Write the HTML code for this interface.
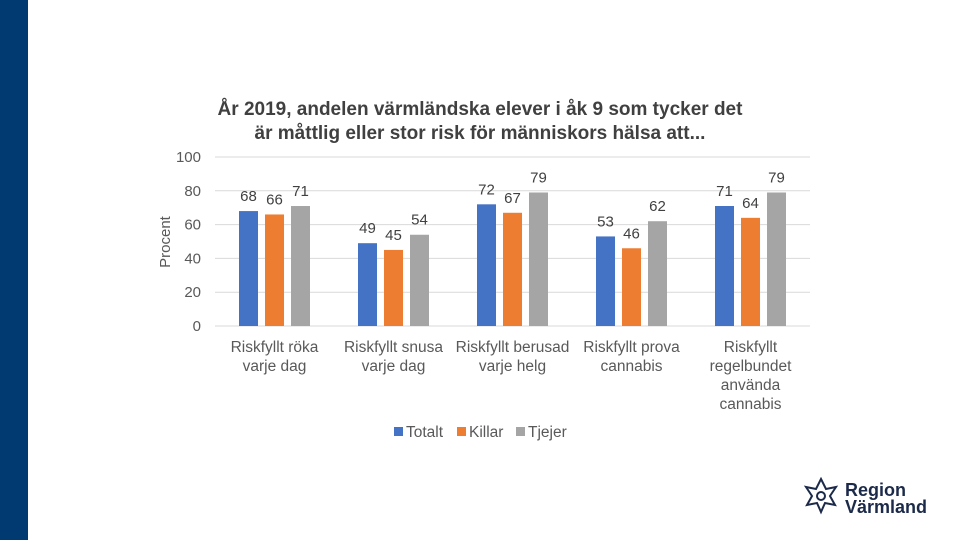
<!DOCTYPE html>
<html><head><meta charset="utf-8">
<style>
body{margin:0;width:960px;height:540px;overflow:hidden;background:#fff;font-family:"Liberation Sans",sans-serif;}
#side{position:absolute;left:0;top:0;width:28px;height:540px;background:#003a70;}
</style></head>
<body>
<div id="side"></div>
<svg id="chart" width="960" height="540" style="position:absolute;left:0;top:0">
<text x="480" y="115" text-anchor="middle" font-size="19" font-weight="bold" fill="#404040">År 2019, andelen värmländska elever i åk 9 som tycker det</text>
<text x="480" y="139" text-anchor="middle" font-size="19" font-weight="bold" fill="#404040">är måttlig eller stor risk för människors hälsa att...</text>
<text transform="translate(170,242) rotate(-90)" text-anchor="middle" font-size="15" fill="#595959">Procent</text>
<g id="grid"></g><g id="bars"></g><g id="cats"></g>
<g>
<rect x="394" y="427" width="9" height="9" fill="#4472c4"/>
<text x="406" y="437" font-size="15.5" fill="#595959">Totalt</text>
<rect x="457" y="427" width="9" height="9" fill="#ed7d31"/>
<text x="469" y="437" font-size="15.5" fill="#595959">Killar</text>
<rect x="516" y="427" width="9" height="9" fill="#a5a5a5"/>
<text x="528" y="437" font-size="15.5" fill="#595959">Tjejer</text>
</g>
<g>
<g transform="translate(821,495)" fill="none" stroke="#1c2a4a" stroke-width="2">
<path d="M0,-16 L5,-6 L15,-8 L9,1 L14,10 L4,8 L0,17 L-4,8 L-14,10 L-9,1 L-15,-8 L-5,-6 Z"/>
<circle cx="0" cy="1" r="4"/>
</g>
<text x="845" y="496" font-size="18" font-weight="bold" fill="#1c2a4a">Region</text>
<text x="845" y="513" font-size="18" font-weight="bold" fill="#1c2a4a">Värmland</text>
</g>
</svg>
<script>
const categories=[["Riskfyllt röka","varje dag"],["Riskfyllt snusa","varje dag"],["Riskfyllt berusad","varje helg"],["Riskfyllt prova","cannabis"],["Riskfyllt","regelbundet","använda","cannabis"]];
const totalt=[68,49,72,53,71];
const killar=[66,45,67,46,64];
const tjejer=[71,54,79,62,79];
const yTicks=[0,20,40,60,80,100];
const seriesNames=["totalt","killar","tjejer"];
const colors=["#4472c4","#ed7d31","#a5a5a5"];
const NS="http://www.w3.org/2000/svg";
const x0=215,x1=810,yBase=326,yTop=157;
const y=v=>yBase-(v/100)*(yBase-yTop);
const band=(x1-x0)/categories.length;
const cx=i=>x0+band*(i+0.5);
function mk(t,a,p){const e=document.createElementNS(NS,t);for(const k in a)e.setAttribute(k,a[k]);p.appendChild(e);return e;}
const grid=document.getElementById('grid');
yTicks.forEach(v=>{
 const l=mk('line',{x1:x0,x2:x1,y1:y(v),y2:y(v),stroke:'#d9d9d9','stroke-width':1},grid);
 
 
 const t=mk('text',{x:201,y:y(v)+5,'text-anchor':'end','font-size':15,fill:'#595959'},grid);
 t.textContent=v;
 
 
});
const bars=document.getElementById('bars');
const series=[totalt,killar,tjejer];
const bw=19,step=26;
categories.forEach((c,i)=>{
 series.forEach((s,j)=>{
  const bx=cx(i)+(j-1)*step-bw/2;
  const r=mk('rect',{x:bx,y:y(s[i]),width:bw,height:yBase-y(s[i]),fill:colors[j]},bars);
  
  
  const t=mk('text',{x:bx+bw/2,y:y(s[i])-10,'text-anchor':'middle','font-size':15,fill:'#404040'},bars);
  t.textContent=s[i];
  
  
 });
 const cg=document.getElementById('cats');
 c.forEach((line,k)=>{
  const t=mk('text',{x:cx(i),y:352+k*19,'text-anchor':'middle','font-size':15.5,fill:'#595959'},cg);
  t.textContent=line;
  
  
 });
});
</script>
</body></html>
